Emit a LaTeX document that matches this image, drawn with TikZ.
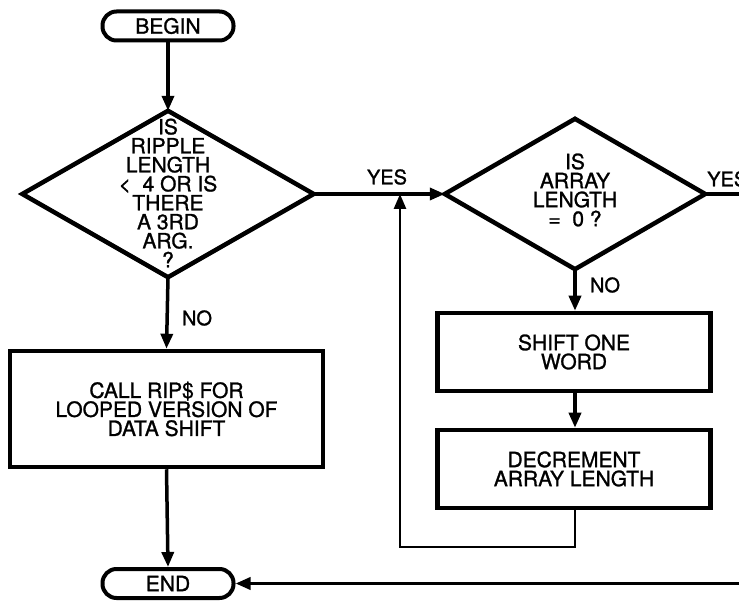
\documentclass[tikz,border=0pt]{standalone}
\usepackage{fontspec}
\setmainfont{TeX Gyre Heros}[FakeBold=1.2]
\usetikzlibrary{arrows.meta}
\begin{document}
\begin{tikzpicture}[x=1pt,y=-1pt,
  txt/.style={font=\fontsize{21}{19}\selectfont,align=center,inner sep=0pt},
  term/.style={txt,draw,line width=4pt,rounded corners=14pt,minimum width=131pt,minimum height=29pt},
  procbox/.style={txt,draw,line width=4.5pt,minimum width=273pt,minimum height=78pt},
  conn/.style={line width=3.5pt,-{Triangle[length=15pt,width=12pt]}},
  plain/.style={line width=3.2pt},
  thinline/.style={line width=2.6pt},
  lbl/.style={font=\fontsize{20}{20}\selectfont,inner sep=0pt}
]
\useasboundingbox (0,0) rectangle (739,601);
\clip (0,0) rectangle (739,601);

% nodes
\node[term] (begin) at (168,26) {BEGIN};
\node[txt,minimum width=291pt,minimum height=166pt] (d1) at (168,194) {};
\node[txt] (d1t) at (168,193)
  {IS\\RIPPLE\\LENGTH\\<\ \ 4 OR IS\\THERE\\A 3RD\\ARG.\\?};
\draw[line width=4.5pt,line join=miter] (d1.north) -- (d1.east) -- (d1.south) -- (d1.west) -- cycle;

\node[txt,minimum width=260pt,minimum height=150pt] (d2) at (575,194) {};
\node[txt] (d2t) at (575,190) {IS\\ARRAY\\LENGTH\\=\ \ 0 ?};
\draw[line width=4.5pt,line join=miter] (d2.north) -- (d2.east) -- (d2.south) -- (d2.west) -- cycle;

\node[procbox,minimum width=313pt,minimum height=116pt] (call) at (166.5,409)
  {CALL RIP\$ FOR\\LOOPED VERSION OF\\DATA SHIFT};
\node[procbox] (shift) at (574,352) {SHIFT ONE\\WORD};
\node[procbox] (dec) at (574,469) {DECREMENT\\ARRAY LENGTH};
\node[term] (end) at (168,583.5) {END};

% free ends
\coordinate (offR1) at (750,194);
\coordinate (offR2) at (750,583.5);
\coordinate (lpb) at (400,547);
\coordinate (lp) at (400,194);

% connectors
\draw[conn] (begin.south) -- (d1.north);
\draw[conn] (d1.east) -- (d2.west);
\draw[conn] (d1.south) -- (call.north);
\draw[conn] (call.south) -- (end.north);
\draw[conn] (d2.south) -- (d2.south |- shift.north);
\draw[conn] (shift.south -| d2.south) -- (dec.north -| d2.south);
\draw[thinline,-{Triangle[length=15pt,width=12pt]}] (dec.south -| d2.south) |- (lpb) -- (lp);
\draw[plain] (d2.east) -- (offR1);
\draw[conn] (offR2) -- (end.east);

% labels
\node[lbl] (yes1) at (387,177) {YES};
\node[lbl,anchor=west] (yes2) at (707,179) {YES};
\node[lbl] (no1) at (197,318) {NO};
\node[lbl] (no2) at (605,285) {NO};
\end{tikzpicture}
\end{document}
